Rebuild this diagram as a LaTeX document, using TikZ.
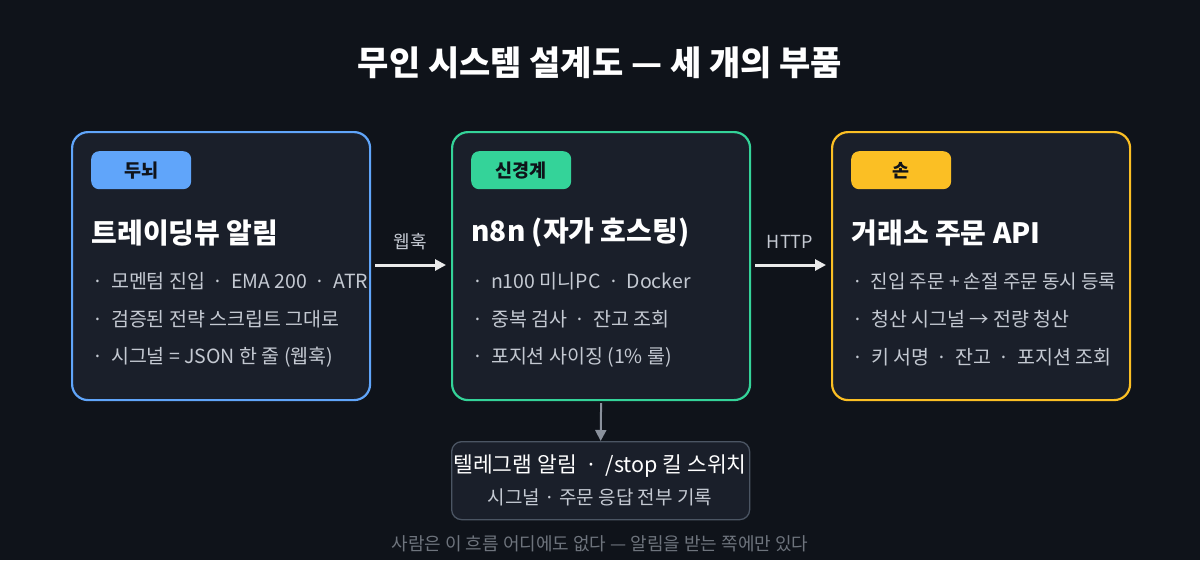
\documentclass[tikz,border=0pt]{standalone}
\usepackage{fontspec}
\setmainfont{Noto Sans CJK KR}
\usetikzlibrary{arrows.meta}
\definecolor{bg}{HTML}{0F131A}
\definecolor{card}{HTML}{1A1F2A}
\definecolor{cblue}{HTML}{60A5FA}
\definecolor{cgreen}{HTML}{34D399}
\definecolor{cyellow}{HTML}{FBBF24}
\definecolor{txt}{HTML}{C4C9D2}
\definecolor{dim}{HTML}{8A919C}
\definecolor{edge}{HTML}{4B5563}
\tikzset{
 card/.style={draw=#1,line width=2.2pt,fill=card,rounded corners=16pt,minimum width=298pt,minimum height=268pt,anchor=north west},
 badge/.style={fill=#1,rounded corners=8pt,minimum width=100pt,minimum height=38pt,anchor=north west,text=bg,font=\fontsize{18.5}{22}\selectfont\bfseries},
 head/.style={anchor=west,text=white,font=\fontsize{28}{32}\selectfont\bfseries},
 item/.style={anchor=west,text=txt,font=\fontsize{19.5}{23}\selectfont},
 arr/.style={-{Triangle[length=11pt,width=11pt]},line width=3pt,draw=#1},
 lab/.style={text=txt,font=\fontsize{18}{22}\selectfont}
}
\begin{document}
\begin{tikzpicture}[x=1pt,y=-1pt]
\fill[bg] (0,0) rectangle (1200,560);
\useasboundingbox (0,0) rectangle (1200,560);
\node[text=white,font=\fontsize{34}{40}\selectfont\bfseries] (title) at (600,63) {무인 시스템 설계도 — 세 개의 부품};
% cards
\node[card=cblue] (c1) at (71,131) {};
\node[card=cgreen] (c2) at (451,131) {};
\node[card=cyellow] (c3) at (831,131) {};
\node[badge=cblue] (b1) at (91,151) {두뇌};
\node[badge=cgreen] (b2) at (471,151) {신경계};
\node[badge=cyellow] (b3) at (851,151) {손};
\node[head] (h1) at (88,233) {트레이딩뷰 알림};
\node[head] (h2) at (468,233) {n8n (자가 호스팅)};
\node[head] (h3) at (848,233) {거래소 주문 API};
\node[item] (i11) at (89,281) {·\, 모멘텀 진입 \,·\, EMA 200 \,·\, ATR};
\node[item] (i12) at (89,319) {·\, 검증된 전략 스크립트 그대로};
\node[item] (i13) at (89,357) {·\, 시그널 = JSON 한 줄 (웹훅)};
\node[item] (i21) at (469,281) {·\, n100 미니PC \,·\, Docker};
\node[item] (i22) at (469,319) {·\, 중복 검사 \,·\, 잔고 조회};
\node[item] (i23) at (469,357) {·\, 포지션 사이징 (1\% 룰)};
\node[item,font=\fontsize{19}{23}\selectfont] (i31) at (849,281) {·\, 진입 주문 + 손절 주문 동시 등록};
\node[item] (i32) at (849,319) {·\, 청산 시그널 → 전량 청산};
\node[item] (i33) at (849,357) {·\, 키 서명 \,·\, 잔고 \,·\, 포지션 조회};
% arrows
\coordinate (a1s) at (375,265); \coordinate (a1e) at (446,265);
\coordinate (a2s) at (755,265); \coordinate (a2e) at (826,265);
\draw[arr=white!92!black] (a1s) -- (a1e);
\draw[arr=white!92!black] (a2s) -- (a2e);
\node[lab] (l1) at (410,242) {웹훅};
\node[lab] (l2) at (790,242) {HTTP};
% bottom box
\node[draw=edge,line width=1.3pt,fill=card,rounded corners=10pt,minimum width=298pt,minimum height=78pt,anchor=north west] (log) at (451,441) {};
\draw[arr=dim,line width=2pt] (c2.south) ++(0,2) -- (log.north);
\node[text=white,font=\fontsize{21.5}{26}\selectfont] (lt) at (600,466) {텔레그램 알림 \,·\, /stop 킬 스위치};
\node[text=txt,font=\fontsize{19}{22}\selectfont] (ls) at (600,497) {시그널 · 주문 응답 전부 기록};
\node[text=dim!80!black,font=\fontsize{18}{21}\selectfont] (foot) at (600,544) {사람은 이 흐름 어디에도 없다 — 알림을 받는 쪽에만 있다};
\end{tikzpicture}
\end{document}
